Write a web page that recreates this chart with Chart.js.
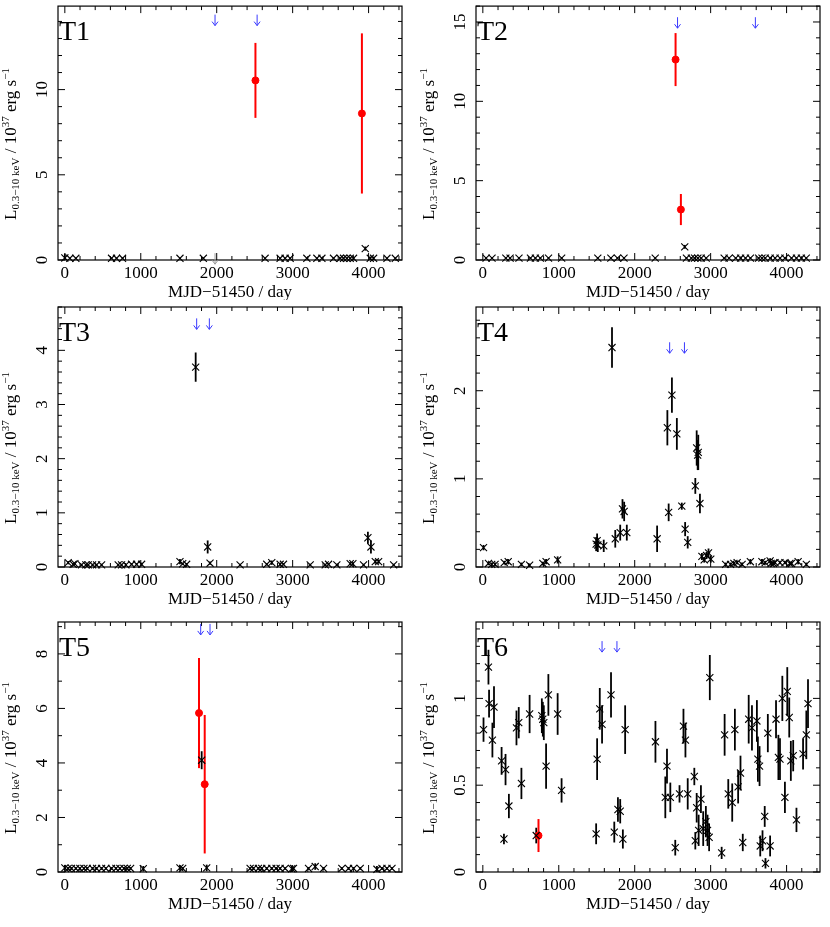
<!DOCTYPE html>
<html>
<head>
<meta charset="utf-8">
<script src="https://cdn.jsdelivr.net/npm/chart.js@4.4.1/dist/chart.umd.min.js"></script>
<style>
body { margin: 0; background: #fff; }
#wrap { position: relative; width: 830px; height: 927px; }
#wrap canvas { position: absolute; }
</style>
</head>
<body>
<div id="wrap">
<canvas id="t1" width="415" height="300" style="left:0;top:0"></canvas>
<canvas id="t2" width="415" height="300" style="left:415px;top:0"></canvas>
<canvas id="t3" width="415" height="310" style="left:0;top:300px"></canvas>
<canvas id="t4" width="415" height="310" style="left:415px;top:300px"></canvas>
<canvas id="t5" width="415" height="317" style="left:0;top:610px"></canvas>
<canvas id="t6" width="415" height="317" style="left:415px;top:610px"></canvas>
</div>
<script>
// x axis (days since MJD 51450), shared by all panels
const xMin = -90, xMax = 4440;
const xMajor = 1000, xMinor = 200;

// T1
const t1X = [0, 66, 145, 615, 681, 760, 1516, 1824, 2637, 2835, 2901, 2967, 3187, 3319, 3385, 3538, 3626, 3670, 3714, 3758, 3802, 4022, 4066, 4242, 4352, 3956];
const t1Y = [0.12, 0.1, 0.1, 0.1, 0.1, 0.1, 0.1, 0.1, 0.1, 0.1, 0.1, 0.1, 0.1, 0.1, 0.1, 0.1, 0.1, 0.1, 0.1, 0.1, 0.1, 0.1, 0.1, 0.1, 0.1, 0.67];
const t1E = [0.25, 0.05, 0.05, 0.05, 0.05, 0.05, 0.05, 0.05, 0.05, 0.05, 0.05, 0.05, 0.05, 0.05, 0.05, 0.05, 0.05, 0.05, 0.05, 0.05, 0.05, 0.1, 0.1, 0.05, 0.05, 0.12];
const t1RedX = [2510, 3912];
const t1RedY = [10.54, 8.6];
const t1RedE = [2.2, 4.7];
const t1ArrowX = [1978, 2532];
const t1LimX = [1978];
const t1LimY = [0.4];

// T2
const t2X = [43, 121, 303, 359, 476, 627, 692, 757, 865, 1038, 1514, 1686, 1773, 1859, 2270, 2681, 2746, 2789, 2832, 2876, 2941, 3178, 3243, 3330, 3395, 3459, 3524, 3632, 3676, 3719, 3784, 3849, 3914, 3978, 4065, 4130, 4195, 4259, 2659];
const t2Y = [0.12, 0.12, 0.12, 0.12, 0.12, 0.12, 0.12, 0.12, 0.12, 0.12, 0.12, 0.12, 0.12, 0.12, 0.12, 0.12, 0.12, 0.12, 0.12, 0.12, 0.12, 0.12, 0.12, 0.12, 0.12, 0.12, 0.12, 0.12, 0.12, 0.12, 0.12, 0.12, 0.12, 0.12, 0.12, 0.12, 0.12, 0.12, 0.83];
const t2E = [0.05, 0.05, 0.05, 0.05, 0.05, 0.05, 0.05, 0.05, 0.05, 0.05, 0.05, 0.05, 0.05, 0.05, 0.05, 0.05, 0.05, 0.05, 0.05, 0.05, 0.05, 0.05, 0.05, 0.05, 0.05, 0.05, 0.05, 0.05, 0.05, 0.05, 0.05, 0.05, 0.05, 0.05, 0.05, 0.05, 0.05, 0.05, 0.12];
const t2RedX = [2538, 2608];
const t2RedY = [12.63, 3.18];
const t2RedE = [1.67, 0.98];
const t2ArrowX = [2564, 3589];

// T3
const t3X = [44, 110, 132, 220, 277, 308, 365, 418, 484, 703, 747, 804, 879, 945, 1011, 1516, 1552, 1604, 1912, 2308, 2659, 2725, 2835, 2879, 3231, 3429, 3473, 3582, 3758, 3793, 3934, 4088, 4132, 4330, 1723, 1881, 3991, 4031];
const t3Y = [0.08, 0.05, 0.06, 0.04, 0.04, 0.04, 0.04, 0.04, 0.04, 0.04, 0.04, 0.04, 0.05, 0.05, 0.05, 0.1, 0.06, 0.05, 0.07, 0.04, 0.05, 0.08, 0.05, 0.05, 0.04, 0.04, 0.05, 0.04, 0.06, 0.06, 0.04, 0.1, 0.1, 0.04, 3.69, 0.37, 0.54, 0.37];
const t3E = [0.03, 0.02, 0.02, 0.02, 0.02, 0.02, 0.02, 0.02, 0.02, 0.02, 0.02, 0.02, 0.02, 0.02, 0.03, 0.05, 0.02, 0.02, 0.03, 0.02, 0.02, 0.04, 0.03, 0.02, 0.02, 0.02, 0.02, 0.02, 0.03, 0.03, 0.02, 0.04, 0.04, 0.02, 0.27, 0.12, 0.11, 0.12];
const t3ArrowX = [1736, 1903];

// T4
const t4X = [9, 74, 117, 161, 282, 334, 508, 616, 790, 833, 985, 1492, 1505, 1514, 1592, 1701, 1744, 1809, 1839, 1861, 1896, 2295, 2430, 2447, 2490, 2555, 2620, 2664, 2698, 2798, 2816, 2829, 2837, 2859, 2885, 2915, 2946, 2972, 3002, 3197, 3262, 3306, 3349, 3414, 3523, 3675, 3718, 3783, 3796, 3826, 3848, 3913, 3978, 4043, 4065, 4152, 4260];
const t4Y = [0.22, 0.04, 0.03, 0.03, 0.05, 0.06, 0.03, 0.02, 0.04, 0.06, 0.08, 0.26, 0.3, 0.25, 0.24, 2.49, 0.32, 0.39, 0.66, 0.63, 0.39, 0.32, 1.58, 0.62, 1.95, 1.51, 0.69, 0.43, 0.28, 0.92, 1.35, 1.27, 1.3, 0.72, 0.12, 0.08, 0.13, 0.16, 0.09, 0.03, 0.03, 0.04, 0.05, 0.03, 0.06, 0.06, 0.05, 0.07, 0.04, 0.04, 0.05, 0.05, 0.05, 0.04, 0.04, 0.06, 0.03];
const t4E = [0.03, 0.02, 0.02, 0.02, 0.02, 0.03, 0.02, 0.02, 0.02, 0.03, 0.04, 0.08, 0.08, 0.08, 0.07, 0.23, 0.1, 0.09, 0.11, 0.11, 0.09, 0.15, 0.2, 0.1, 0.2, 0.18, 0.04, 0.08, 0.07, 0.09, 0.2, 0.17, 0.2, 0.11, 0.04, 0.03, 0.04, 0.05, 0.04, 0.02, 0.02, 0.02, 0.02, 0.02, 0.03, 0.03, 0.02, 0.03, 0.02, 0.02, 0.02, 0.02, 0.02, 0.02, 0.02, 0.03, 0.02];
const t4ArrowX = [2460, 2655];

// T5
const t5X = [0, 44, 88, 145, 198, 251, 295, 365, 418, 484, 541, 615, 673, 725, 778, 822, 866, 1033, 1516, 1552, 1868, 2440, 2484, 2549, 2593, 2659, 2725, 2782, 2835, 2901, 2989, 3011, 3209, 3297, 3407, 3648, 3736, 3802, 3890, 4110, 4176, 4242, 4308, 1802];
const t5Y = [0.15, 0.13, 0.13, 0.13, 0.13, 0.13, 0.13, 0.13, 0.13, 0.13, 0.13, 0.13, 0.13, 0.13, 0.13, 0.13, 0.13, 0.12, 0.15, 0.13, 0.15, 0.13, 0.13, 0.13, 0.13, 0.13, 0.13, 0.13, 0.13, 0.13, 0.12, 0.13, 0.13, 0.2, 0.13, 0.13, 0.13, 0.13, 0.13, 0.1, 0.13, 0.13, 0.13, 4.1];
const t5E = [0.1, 0.05, 0.05, 0.05, 0.05, 0.05, 0.05, 0.05, 0.05, 0.05, 0.05, 0.05, 0.05, 0.05, 0.05, 0.05, 0.05, 0.1, 0.1, 0.05, 0.12, 0.05, 0.05, 0.05, 0.05, 0.05, 0.05, 0.05, 0.05, 0.05, 0.12, 0.05, 0.05, 0.12, 0.05, 0.05, 0.05, 0.05, 0.05, 0.12, 0.05, 0.05, 0.05, 0.33];
const t5RedX = [1767, 1842];
const t5RedY = [5.83, 3.22];
const t5RedE = [2.02, 2.54];
const t5ArrowX = [1789, 1912];

// T6
const t6X = [9, 74, 82, 126, 147, 247, 278, 299, 343, 443, 473, 508, 616, 703, 777, 790, 803, 833, 863, 985, 1037, 1492, 1505, 1540, 1570, 1688, 1731, 1779, 1809, 1844, 1874, 2273, 2403, 2425, 2469, 2534, 2590, 2642, 2668, 2698, 2785, 2798, 2816, 2842, 2872, 2902, 2937, 2959, 2980, 2989, 3145, 3184, 3232, 3284, 3319, 3362, 3393, 3423, 3501, 3544, 3609, 3622, 3644, 3653, 3683, 3712, 3722, 3753, 3783, 3861, 3892, 3913, 3944, 3978, 4009, 4035, 4056, 4087, 4130, 4217, 4260, 4282];
const t6Y = [0.82, 1.18, 0.97, 0.76, 0.95, 0.64, 0.19, 0.59, 0.38, 0.83, 0.86, 0.51, 0.91, 0.21, 0.90, 0.88, 0.86, 0.61, 1.02, 0.91, 0.47, 0.22, 0.65, 0.94, 0.85, 1.02, 0.23, 0.36, 0.35, 0.19, 0.82, 0.75, 0.43, 0.61, 0.43, 0.14, 0.45, 0.84, 0.76, 0.45, 0.55, 0.18, 0.37, 0.24, 0.42, 0.25, 0.29, 0.24, 0.20, 1.12, 0.11, 0.79, 0.45, 0.40, 0.82, 0.49, 0.57, 0.17, 0.88, 0.83, 0.87, 0.65, 0.61, 0.15, 0.18, 0.32, 0.05, 0.80, 0.15, 0.88, 0.66, 0.65, 1.00, 0.43, 1.04, 0.89, 0.64, 0.67, 0.30, 0.68, 0.79, 0.97];
const t6E = [0.07, 0.1, 0.08, 0.1, 0.12, 0.08, 0.03, 0.09, 0.07, 0.1, 0.09, 0.09, 0.11, 0.045, 0.1, 0.1, 0.1, 0.13, 0.12, 0.12, 0.07, 0.06, 0.12, 0.12, 0.11, 0.13, 0.06, 0.07, 0.07, 0.055, 0.14, 0.12, 0.12, 0.1, 0.085, 0.045, 0.05, 0.1, 0.1, 0.09, 0.05, 0.05, 0.085, 0.09, 0.08, 0.1, 0.09, 0.09, 0.08, 0.13, 0.035, 0.12, 0.085, 0.11, 0.12, 0.095, 0.1, 0.05, 0.14, 0.13, 0.12, 0.13, 0.115, 0.06, 0.06, 0.06, 0.03, 0.11, 0.06, 0.11, 0.13, 0.12, 0.13, 0.09, 0.14, 0.115, 0.115, 0.09, 0.07, 0.09, 0.14, 0.14];
const t6RedX = [733];
const t6RedY = [0.21];
const t6RedE = [0.095];
const t6ArrowX = [1570, 1766];

// y axes per panel
const yMaxes = [14.9, 16, 4.8, 2.95, 9.17, 1.44];
const yMajors = [5, 5, 1, 1, 2, 0.5];
const yMinors = [1, 1, 0.2, 0.2, 1, 0.1];
const arrowTops = [14.4, 15.3, 4.59, 2.55, 9.1, 1.33];

const serif = '"Liberation Serif", "Times New Roman", serif';
const blue = '#3a3aff';

function pts(xs, ys) {
    return xs.map(function (x, i) { return { x: x, y: ys[i] }; });
}

function drawArrow(ctx, px, py, color) {
    ctx.strokeStyle = color;
    ctx.lineWidth = 1;
    ctx.beginPath();
    ctx.moveTo(px, py);
    ctx.lineTo(px, py + 11);
    ctx.moveTo(px - 3, py + 7);
    ctx.lineTo(px, py + 11);
    ctx.lineTo(px + 3, py + 7);
    ctx.stroke();
}

// y title with sub/superscripts, drawn rotated
function drawYTitle(ctx, cx, cy) {
    const parts = [
        { t: 'L', s: 17, dy: 0 },
        { t: '0.3\u221210 keV', s: 11, dy: 4 },
        { t: ' / 10', s: 17, dy: 0 },
        { t: '37', s: 11, dy: -6 },
        { t: ' erg s', s: 17, dy: 0 },
        { t: '\u22121', s: 11, dy: -6 }
    ];
    let total = 0;
    parts.forEach(function (p) {
        ctx.font = p.s + 'px ' + serif;
        p.w = ctx.measureText(p.t).width;
        total += p.w;
    });
    ctx.save();
    ctx.translate(cx, cy);
    ctx.rotate(-Math.PI / 2);
    ctx.fillStyle = '#000';
    ctx.textAlign = 'left';
    ctx.textBaseline = 'middle';
    let x = -total / 2;
    parts.forEach(function (p) {
        ctx.font = p.s + 'px ' + serif;
        ctx.fillText(p.t, x, p.dy);
        x += p.w;
    });
    ctx.restore();
}

function panelPlugin(info) {
    return {
        id: 'panel' + info.name,
        beforeDatasetsDraw: function (chart) {
            const ctx = chart.ctx, xs = chart.scales.x, ys = chart.scales.y;
            chart.data.datasets.forEach(function (ds) {
                if (!ds.errors) return;
                ctx.save();
                ctx.strokeStyle = ds.errColor;
                ctx.lineWidth = ds.errWidth;
                ds.data.forEach(function (p, i) {
                    const e = ds.errors[i];
                    if (!e) return;
                    const px = xs.getPixelForValue(p.x);
                    ctx.beginPath();
                    ctx.moveTo(px, ys.getPixelForValue(Math.max(0, p.y - e)));
                    ctx.lineTo(px, ys.getPixelForValue(p.y + e));
                    ctx.stroke();
                });
                ctx.restore();
            });
        },
        afterDatasetsDraw: function (chart) {
            const ctx = chart.ctx, xs = chart.scales.x, ys = chart.scales.y;
            const a = chart.chartArea;
            ctx.save();
            ctx.strokeStyle = '#000';
            ctx.lineWidth = 1.2;
            ctx.strokeRect(a.left, a.top, a.right - a.left, a.bottom - a.top);

            ctx.lineWidth = 1;
            ctx.fillStyle = '#000';
            ctx.font = '17px ' + serif;
            ctx.textAlign = 'center';
            ctx.textBaseline = 'middle';
            // x ticks, both sides
            ctx.beginPath();
            for (let v = 0; v <= xMax; v += xMinor) {
                const px = xs.getPixelForValue(v);
                const len = v % xMajor === 0 ? 7 : 4;
                ctx.moveTo(px, a.bottom); ctx.lineTo(px, a.bottom - len);
                ctx.moveTo(px, a.top); ctx.lineTo(px, a.top + len);
                if (v % xMajor === 0) ctx.fillText(String(v), px, a.bottom + 14);
            }
            // y ticks, both sides
            const n = Math.round(info.yMax / info.yMinor + 1e-6);
            for (let k = 0; k <= n; k++) {
                const v = k * info.yMinor;
                if (v > info.yMax + 1e-9) break;
                const py = ys.getPixelForValue(v);
                const r = v / info.yMajor;
                const major = Math.abs(r - Math.round(r)) < 1e-6;
                const len = major ? 7 : 4;
                ctx.moveTo(a.left, py); ctx.lineTo(a.left + len, py);
                ctx.moveTo(a.right, py); ctx.lineTo(a.right - len, py);
                if (major) {
                    ctx.save();
                    ctx.translate(a.left - 15, py);
                    ctx.rotate(-Math.PI / 2);
                    ctx.fillText(String(Math.round(v * 10) / 10), 0, 0);
                    ctx.restore();
                }
            }
            ctx.stroke();

            ctx.fillText('MJD\u221251450 / day', (a.left + a.right) / 2, a.bottom + 33);
            drawYTitle(ctx, a.left - 46, (a.top + a.bottom) / 2 + 11);

            ctx.font = '28px ' + serif;
            ctx.textAlign = 'left';
            ctx.textBaseline = 'alphabetic';
            ctx.fillText(info.name, a.left + 1, a.top + 34);

            // upper-limit arrows
            info.arrowX.forEach(function (x) {
                drawArrow(ctx, xs.getPixelForValue(x), ys.getPixelForValue(info.arrowTop), blue);
            });
            if (info.limX) {
                info.limX.forEach(function (x, i) {
                    drawArrow(ctx, xs.getPixelForValue(x), ys.getPixelForValue(info.limY[i]), '#9a9a9a');
                });
            }
            ctx.restore();
        }
    };
}

function makePanel(id, info) {
    const datasets = [{
        data: pts(info.x, info.y),
        errors: info.e,
        errColor: '#000',
        errWidth: 1.8,
        pointStyle: 'crossRot',
        pointRadius: 5,
        borderColor: '#000',
        backgroundColor: '#000',
        borderWidth: 1.1,
        clip: false
    }];
    if (info.rx) {
        datasets.push({
            data: pts(info.rx, info.ry),
            errors: info.re,
            errColor: '#ff0000',
            errWidth: 2,
            pointStyle: 'circle',
            pointRadius: 3.5,
            borderColor: '#ff0000',
            backgroundColor: '#ff0000',
            borderWidth: 1,
            clip: false
        });
    }
    new Chart(document.getElementById(id), {
        type: 'scatter',
        data: { datasets: datasets },
        options: {
            responsive: false,
            animation: false,
            devicePixelRatio: 1,
            events: [],
            layout: { padding: info.pad },
            scales: {
                x: { display: false, min: xMin, max: xMax },
                y: { display: false, min: 0, max: info.yMax }
            },
            plugins: {
                legend: { display: false },
                tooltip: { enabled: false }
            }
        },
        plugins: [panelPlugin(info)]
    });
}

const col1 = { left: 58, right: 13 };
const col2 = { left: 61, right: 10 };
const rowPad = [{ top: 2, bottom: 40 }, { top: 7, bottom: 43 }, { top: 12, bottom: 55 }];

function pad(col, row) {
    return { left: col.left, right: col.right, top: rowPad[row].top, bottom: rowPad[row].bottom };
}

function axisInfo(i) {
    return { yMax: yMaxes[i], yMajor: yMajors[i], yMinor: yMinors[i], arrowTop: arrowTops[i] };
}

makePanel('t1', Object.assign(axisInfo(0), { name: 'T1', pad: pad(col1, 0), x: t1X, y: t1Y, e: t1E, rx: t1RedX, ry: t1RedY, re: t1RedE, arrowX: t1ArrowX, limX: t1LimX, limY: t1LimY }));
makePanel('t2', Object.assign(axisInfo(1), { name: 'T2', pad: pad(col2, 0), x: t2X, y: t2Y, e: t2E, rx: t2RedX, ry: t2RedY, re: t2RedE, arrowX: t2ArrowX }));
makePanel('t3', Object.assign(axisInfo(2), { name: 'T3', pad: pad(col1, 1), x: t3X, y: t3Y, e: t3E, arrowX: t3ArrowX }));
makePanel('t4', Object.assign(axisInfo(3), { name: 'T4', pad: pad(col2, 1), x: t4X, y: t4Y, e: t4E, arrowX: t4ArrowX }));
makePanel('t5', Object.assign(axisInfo(4), { name: 'T5', pad: pad(col1, 2), x: t5X, y: t5Y, e: t5E, rx: t5RedX, ry: t5RedY, re: t5RedE, arrowX: t5ArrowX }));
makePanel('t6', Object.assign(axisInfo(5), { name: 'T6', pad: pad(col2, 2), x: t6X, y: t6Y, e: t6E, rx: t6RedX, ry: t6RedY, re: t6RedE, arrowX: t6ArrowX }));
</script>
</body>
</html>
